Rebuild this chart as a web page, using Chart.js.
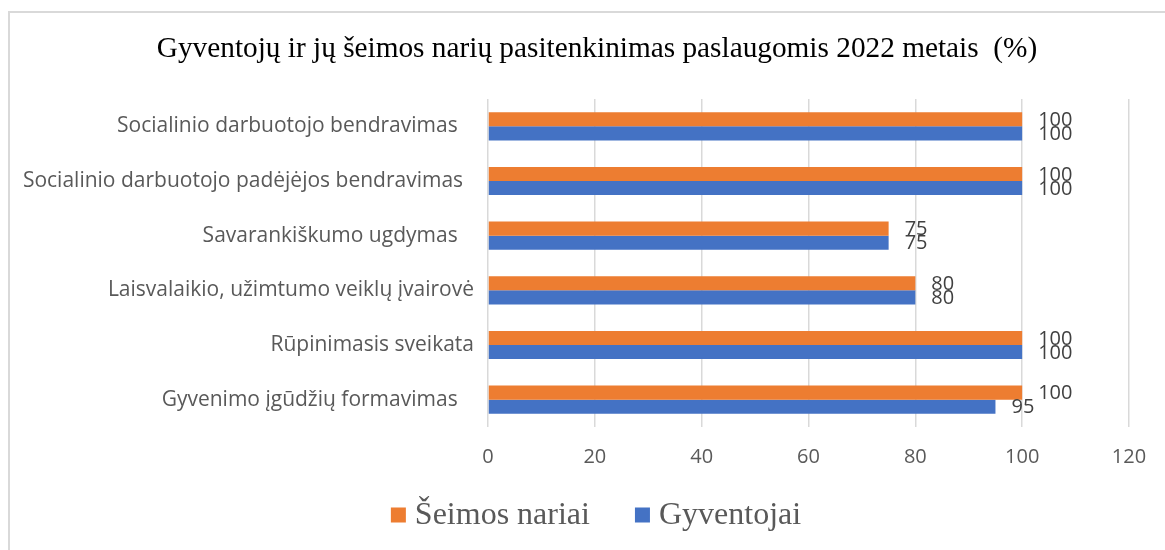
<!DOCTYPE html>
<html>
<head>
<meta charset="utf-8">
<script src="https://cdn.jsdelivr.net/npm/chart.js@4.4.0/dist/chart.umd.min.js"></script>
<style>
  html, body { margin: 0; padding: 0; background: #fff; overflow: hidden; width: 1165px; height: 550px; }
  #frame {
    position: absolute; left: 8px; top: 11px;
    width: 1178px; height: 560px;
    border-left: 2px solid #d9d9d9; border-top: 2px solid #d9d9d9;
  }
  #wrap { position: relative; width: 1176px; height: 537px; }
</style>
</head>
<body>
<div id="frame"><div id="wrap"><canvas id="myChart"></canvas></div></div>
<script>
const categories = [
  'Socialinio darbuotojo bendravimas   ',
  'Socialinio darbuotojo padėjėjos bendravimas  ',
  'Savarankiškumo ugdymas   ',
  'Laisvalaikio, užimtumo veiklų įvairovė',
  'Rūpinimasis sveikata',
  'Gyvenimo įgūdžių formavimas   '
];
const seimosNariai = [100, 100, 75, 80, 100, 100];
const gyventojai = [100, 100, 75, 80, 100, 95];
const xTicks = [0, 20, 40, 60, 80, 100, 120];
const chartTitle = 'Gyventojų ir jų šeimos narių pasitenkinimas paslaugomis 2022 metais  (%)';

const sans = '"Open Sans", sans-serif';
const serif = '"Liberation Serif", "Times New Roman", serif';

// values written just past the end of each bar
const barValues = {
  id: 'barValues',
  afterDatasetsDraw(chart) {
    const c = chart.ctx;
    c.save();
    c.font = '20px ' + sans;
    c.fillStyle = '#404040';
    c.textAlign = 'left';
    c.textBaseline = 'middle';
    chart.data.datasets.forEach((ds, i) => {
      chart.getDatasetMeta(i).data.forEach((bar, j) => {
        c.fillText(String(ds.data[j]), bar.x + 16, bar.y + 1);
      });
    });
    c.restore();
  }
};

// title on top and a one-row legend at the bottom, both centred on the frame
const captions = {
  id: 'captions',
  afterDraw(chart) {
    const c = chart.ctx;
    c.save();
    c.textBaseline = 'middle';

    c.font = '29.3px ' + serif;
    c.fillStyle = '#000';
    c.textAlign = 'center';
    c.fillText(chartTitle, 587, 36);

    c.font = '32px ' + serif;
    c.textAlign = 'left';
    const box = 15, gap = 9, between = 45;
    const items = chart.data.datasets.map(ds => ({
      text: ds.label, color: ds.backgroundColor, w: c.measureText(ds.label).width
    }));
    let total = items.reduce((s, it) => s + box + gap + it.w, 0) + between * (items.length - 1);
    let x = 586 - total / 2;
    const y = 502;
    items.forEach(it => {
      c.fillStyle = it.color;
      c.fillRect(x, y - box / 2, box, box);
      x += box + gap;
      c.fillStyle = '#595959';
      c.fillText(it.text, x, y + 1);
      x += it.w + between;
    });
    c.restore();
  }
};

let ctx = document.getElementById('myChart');

let chart = new Chart(ctx, {
  type: 'bar',
  data: {
    labels: categories,
    datasets: [{
      label: 'Šeimos nariai',
      data: seimosNariai,
      backgroundColor: '#ED7D31'
    }, {
      label: 'Gyventojai',
      data: gyventojai,
      backgroundColor: '#4472C4'
    }]
  },
  plugins: [barValues, captions],
  options: {
    indexAxis: 'y',
    responsive: true,
    maintainAspectRatio: false,
    animation: false,
    categoryPercentage: 0.515,
    barPercentage: 1,
    layout: { padding: { left: 0, right: 57, top: 86, bottom: 63 } },
    scales: {
      x: {
        min: 0,
        max: 120,
        afterBuildTicks: (scale) => { scale.ticks = xTicks.map(v => ({ value: v })); },
        grid: { color: '#d9d9d9', lineWidth: 1.5, drawTicks: false },
        border: { display: false },
        ticks: { color: '#595959', font: { family: sans, size: 20 }, padding: 18 }
      },
      y: {
        afterFit: (scale) => { scale.width = 478; },
        grid: { display: false, drawTicks: false, tickLength: 0 },
        border: { display: false },
        ticks: { color: '#595959', font: { family: sans, size: 21 }, padding: 14 }
      }
    },
    plugins: {
      title: { display: false },
      legend: { display: false },
      tooltip: { enabled: false }
    }
  }
});
</script>
</body>
</html>
